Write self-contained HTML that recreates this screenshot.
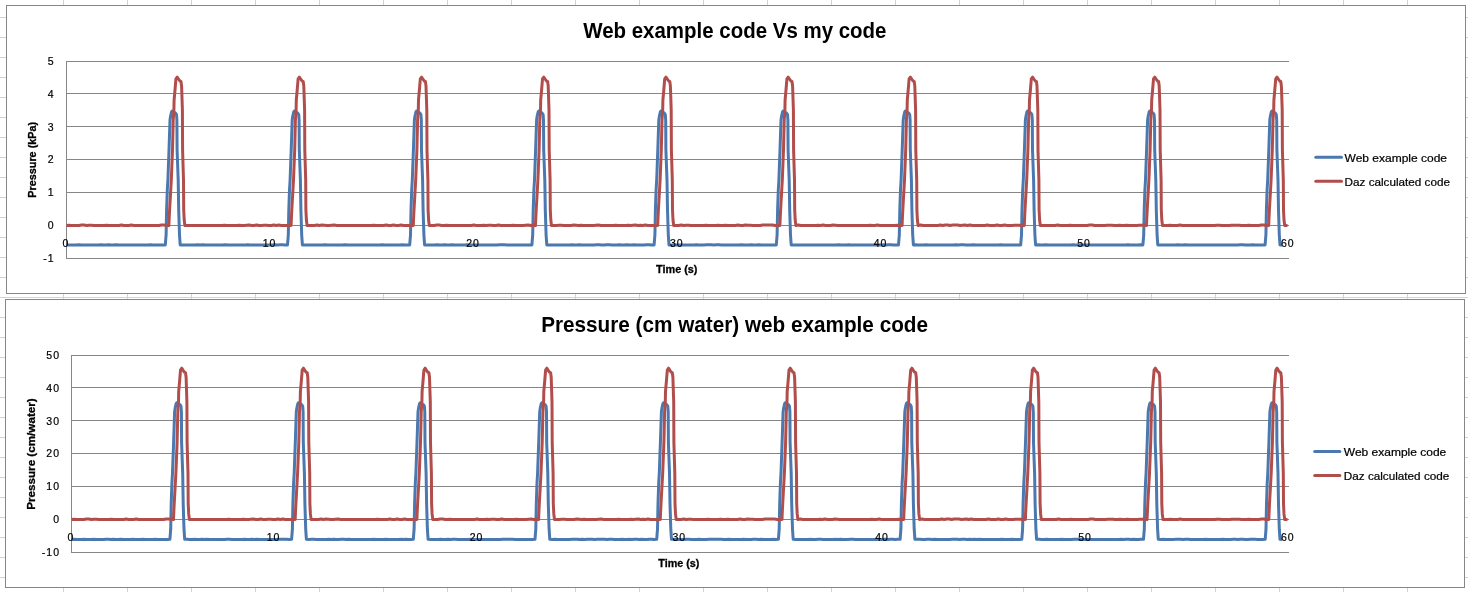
<!DOCTYPE html>
<html><head><meta charset="utf-8"><style>
html,body{margin:0;padding:0;background:#fff;width:1468px;height:592px;overflow:hidden}
svg{display:block;font-family:"Liberation Sans",sans-serif;will-change:transform}
text{fill:#000}
.st{stroke:#000;stroke-width:0.3px}
.sn{stroke:#000;stroke-width:0.2px}
</style></head><body>
<svg width="1468" height="592" viewBox="0 0 1468 592">
<line x1="63.5" y1="0" x2="63.5" y2="592" stroke="#d0d3d8" stroke-width="1"/>
<line x1="127.5" y1="0" x2="127.5" y2="592" stroke="#d0d3d8" stroke-width="1"/>
<line x1="191.5" y1="0" x2="191.5" y2="592" stroke="#d0d3d8" stroke-width="1"/>
<line x1="255.5" y1="0" x2="255.5" y2="592" stroke="#d0d3d8" stroke-width="1"/>
<line x1="319.5" y1="0" x2="319.5" y2="592" stroke="#d0d3d8" stroke-width="1"/>
<line x1="383.5" y1="0" x2="383.5" y2="592" stroke="#d0d3d8" stroke-width="1"/>
<line x1="447.5" y1="0" x2="447.5" y2="592" stroke="#d0d3d8" stroke-width="1"/>
<line x1="511.5" y1="0" x2="511.5" y2="592" stroke="#d0d3d8" stroke-width="1"/>
<line x1="575.5" y1="0" x2="575.5" y2="592" stroke="#d0d3d8" stroke-width="1"/>
<line x1="639.5" y1="0" x2="639.5" y2="592" stroke="#d0d3d8" stroke-width="1"/>
<line x1="703.5" y1="0" x2="703.5" y2="592" stroke="#d0d3d8" stroke-width="1"/>
<line x1="767.5" y1="0" x2="767.5" y2="592" stroke="#d0d3d8" stroke-width="1"/>
<line x1="831.5" y1="0" x2="831.5" y2="592" stroke="#d0d3d8" stroke-width="1"/>
<line x1="895.5" y1="0" x2="895.5" y2="592" stroke="#d0d3d8" stroke-width="1"/>
<line x1="959.5" y1="0" x2="959.5" y2="592" stroke="#d0d3d8" stroke-width="1"/>
<line x1="1023.5" y1="0" x2="1023.5" y2="592" stroke="#d0d3d8" stroke-width="1"/>
<line x1="1087.5" y1="0" x2="1087.5" y2="592" stroke="#d0d3d8" stroke-width="1"/>
<line x1="1151.5" y1="0" x2="1151.5" y2="592" stroke="#d0d3d8" stroke-width="1"/>
<line x1="1215.5" y1="0" x2="1215.5" y2="592" stroke="#d0d3d8" stroke-width="1"/>
<line x1="1279.5" y1="0" x2="1279.5" y2="592" stroke="#d0d3d8" stroke-width="1"/>
<line x1="1343.5" y1="0" x2="1343.5" y2="592" stroke="#d0d3d8" stroke-width="1"/>
<line x1="1407.5" y1="0" x2="1407.5" y2="592" stroke="#d0d3d8" stroke-width="1"/>
<line x1="0" y1="17.5" x2="1468" y2="17.5" stroke="#d0d3d8" stroke-width="1"/>
<line x1="0" y1="37.5" x2="1468" y2="37.5" stroke="#d0d3d8" stroke-width="1"/>
<line x1="0" y1="57.5" x2="1468" y2="57.5" stroke="#d0d3d8" stroke-width="1"/>
<line x1="0" y1="77.5" x2="1468" y2="77.5" stroke="#d0d3d8" stroke-width="1"/>
<line x1="0" y1="97.5" x2="1468" y2="97.5" stroke="#d0d3d8" stroke-width="1"/>
<line x1="0" y1="117.5" x2="1468" y2="117.5" stroke="#d0d3d8" stroke-width="1"/>
<line x1="0" y1="137.5" x2="1468" y2="137.5" stroke="#d0d3d8" stroke-width="1"/>
<line x1="0" y1="157.5" x2="1468" y2="157.5" stroke="#d0d3d8" stroke-width="1"/>
<line x1="0" y1="177.5" x2="1468" y2="177.5" stroke="#d0d3d8" stroke-width="1"/>
<line x1="0" y1="197.5" x2="1468" y2="197.5" stroke="#d0d3d8" stroke-width="1"/>
<line x1="0" y1="217.5" x2="1468" y2="217.5" stroke="#d0d3d8" stroke-width="1"/>
<line x1="0" y1="237.5" x2="1468" y2="237.5" stroke="#d0d3d8" stroke-width="1"/>
<line x1="0" y1="257.5" x2="1468" y2="257.5" stroke="#d0d3d8" stroke-width="1"/>
<line x1="0" y1="277.5" x2="1468" y2="277.5" stroke="#d0d3d8" stroke-width="1"/>
<line x1="0" y1="297.5" x2="1468" y2="297.5" stroke="#d0d3d8" stroke-width="1"/>
<line x1="0" y1="317.5" x2="1468" y2="317.5" stroke="#d0d3d8" stroke-width="1"/>
<line x1="0" y1="337.5" x2="1468" y2="337.5" stroke="#d0d3d8" stroke-width="1"/>
<line x1="0" y1="357.5" x2="1468" y2="357.5" stroke="#d0d3d8" stroke-width="1"/>
<line x1="0" y1="377.5" x2="1468" y2="377.5" stroke="#d0d3d8" stroke-width="1"/>
<line x1="0" y1="397.5" x2="1468" y2="397.5" stroke="#d0d3d8" stroke-width="1"/>
<line x1="0" y1="417.5" x2="1468" y2="417.5" stroke="#d0d3d8" stroke-width="1"/>
<line x1="0" y1="437.5" x2="1468" y2="437.5" stroke="#d0d3d8" stroke-width="1"/>
<line x1="0" y1="457.5" x2="1468" y2="457.5" stroke="#d0d3d8" stroke-width="1"/>
<line x1="0" y1="477.5" x2="1468" y2="477.5" stroke="#d0d3d8" stroke-width="1"/>
<line x1="0" y1="497.5" x2="1468" y2="497.5" stroke="#d0d3d8" stroke-width="1"/>
<line x1="0" y1="517.5" x2="1468" y2="517.5" stroke="#d0d3d8" stroke-width="1"/>
<line x1="0" y1="537.5" x2="1468" y2="537.5" stroke="#d0d3d8" stroke-width="1"/>
<line x1="0" y1="557.5" x2="1468" y2="557.5" stroke="#d0d3d8" stroke-width="1"/>
<line x1="0" y1="577.5" x2="1468" y2="577.5" stroke="#d0d3d8" stroke-width="1"/>
<rect x="6.5" y="5.5" width="1459.0" height="288.0" fill="#fff" stroke="#868686" stroke-width="1"/>
<line x1="66" y1="225.5" x2="1289" y2="225.5" stroke="#868686" stroke-width="1"/>
<line x1="66" y1="192.5" x2="1289" y2="192.5" stroke="#868686" stroke-width="1"/>
<line x1="66" y1="159.5" x2="1289" y2="159.5" stroke="#868686" stroke-width="1"/>
<line x1="66" y1="126.5" x2="1289" y2="126.5" stroke="#868686" stroke-width="1"/>
<line x1="66" y1="93.5" x2="1289" y2="93.5" stroke="#868686" stroke-width="1"/>
<line x1="66" y1="61.5" x2="1289" y2="61.5" stroke="#868686" stroke-width="1"/>
<line x1="66.5" y1="61" x2="66.5" y2="259" stroke="#868686" stroke-width="1"/>
<line x1="66" y1="258.5" x2="1289" y2="258.5" stroke="#868686" stroke-width="1"/>
<line x1="66" y1="225.5" x2="1289" y2="225.5" stroke="#868686" stroke-width="1"/>
<path d="M66.5 245.0 L69.0 244.9 L71.4 245.0 L73.9 245.0 L76.4 245.0 L78.8 244.8 L81.3 245.0 L83.8 245.0 L86.3 245.0 L88.7 244.9 L91.2 245.0 L93.7 245.0 L96.1 245.0 L98.6 245.0 L101.1 244.8 L103.5 244.9 L106.0 245.0 L108.5 244.8 L111.0 245.0 L113.4 245.0 L115.9 244.8 L118.4 245.0 L120.8 245.0 L123.3 245.0 L125.8 245.0 L128.2 244.9 L130.7 245.0 L133.2 245.0 L135.7 245.0 L138.1 244.9 L140.6 245.0 L143.1 245.0 L145.5 245.0 L148.0 245.0 L150.5 244.8 L152.9 245.0 L155.4 245.0 L157.9 245.0 L160.4 245.0 L162.8 245.0 L165.3 244.9 L166.1 235.0 L166.6 210.0 L167.3 190.0 L167.9 180.0 L169.0 150.0 L169.5 135.0 L170.0 120.0 L170.6 116.0 L171.5 112.0 L172.1 111.0 L173.5 111.8 L175.5 113.0 L176.5 114.5 L176.9 120.0 L177.1 150.0 L178.2 180.0 L178.7 210.0 L179.5 235.0 L180.2 244.9 L182.7 244.9 L185.2 245.0 L187.7 245.0 L190.2 244.9 L192.7 245.0 L195.2 245.0 L197.7 244.8 L200.2 245.0 L202.7 244.8 L205.2 245.0 L207.6 245.0 L210.1 245.0 L212.6 245.0 L215.1 245.0 L217.6 245.0 L220.1 245.0 L222.6 244.9 L225.1 244.8 L227.6 245.0 L230.1 245.0 L232.6 245.0 L235.1 245.0 L237.6 245.0 L240.1 244.9 L242.6 245.0 L245.1 245.0 L247.6 244.8 L250.1 245.0 L252.6 244.9 L255.1 245.0 L257.6 245.0 L260.1 245.0 L262.5 245.0 L265.0 245.0 L267.5 245.0 L270.0 245.0 L272.5 245.0 L275.0 244.8 L277.5 244.9 L280.0 244.8 L282.5 244.8 L285.0 245.0 L287.5 244.9 L288.3 235.0 L288.8 210.0 L289.5 190.0 L290.1 180.0 L291.2 150.0 L291.7 135.0 L292.2 120.0 L292.8 116.0 L293.7 112.0 L294.3 111.0 L295.7 111.8 L297.7 113.0 L298.7 114.5 L299.1 120.0 L299.3 150.0 L300.4 180.0 L300.9 210.0 L301.7 235.0 L302.4 244.9 L304.9 245.0 L307.4 244.9 L309.9 244.9 L312.4 245.0 L314.9 245.0 L317.4 245.0 L319.9 245.0 L322.4 245.0 L324.9 244.8 L327.4 245.0 L329.8 244.9 L332.3 245.0 L334.8 245.0 L337.3 244.9 L339.8 244.9 L342.3 245.0 L344.8 244.8 L347.3 245.0 L349.8 245.0 L352.3 245.0 L354.8 245.0 L357.3 245.0 L359.8 245.0 L362.3 245.0 L364.8 245.0 L367.3 245.0 L369.8 244.9 L372.3 245.0 L374.8 245.0 L377.3 245.0 L379.8 245.0 L382.3 244.8 L384.7 245.0 L387.2 245.0 L389.7 245.0 L392.2 245.0 L394.7 245.0 L397.2 244.9 L399.7 245.0 L402.2 244.8 L404.7 245.0 L407.2 245.0 L409.7 244.9 L410.5 235.0 L411.0 210.0 L411.7 190.0 L412.3 180.0 L413.4 150.0 L413.9 135.0 L414.4 120.0 L415.0 116.0 L415.9 112.0 L416.5 111.0 L417.9 111.8 L419.9 113.0 L420.9 114.5 L421.3 120.0 L421.5 150.0 L422.6 180.0 L423.1 210.0 L423.9 235.0 L424.6 244.9 L427.1 245.0 L429.6 245.0 L432.1 245.0 L434.6 245.0 L437.1 244.8 L439.6 245.0 L442.1 245.0 L444.6 244.8 L447.1 245.0 L449.6 244.9 L452.0 244.8 L454.5 245.0 L457.0 245.0 L459.5 245.0 L462.0 245.0 L464.5 245.0 L467.0 244.8 L469.5 245.0 L472.0 245.0 L474.5 245.0 L477.0 245.0 L479.5 245.0 L482.0 245.0 L484.5 245.0 L487.0 245.0 L489.5 245.0 L492.0 245.0 L494.5 245.0 L497.0 245.0 L499.5 244.8 L502.0 244.8 L504.5 244.8 L506.9 244.9 L509.4 244.9 L511.9 245.0 L514.4 245.0 L516.9 245.0 L519.4 245.0 L521.9 245.0 L524.4 245.0 L526.9 245.0 L529.4 245.0 L531.9 244.9 L532.7 235.0 L533.2 210.0 L533.9 190.0 L534.5 180.0 L535.6 150.0 L536.1 135.0 L536.6 120.0 L537.2 116.0 L538.1 112.0 L538.7 111.0 L540.1 111.8 L542.1 113.0 L543.1 114.5 L543.5 120.0 L543.7 150.0 L544.8 180.0 L545.3 210.0 L546.1 235.0 L546.8 244.9 L549.3 245.0 L551.8 244.9 L554.3 245.0 L556.8 245.0 L559.3 245.0 L561.8 245.0 L564.3 245.0 L566.8 245.0 L569.3 244.9 L571.8 244.8 L574.2 244.9 L576.7 245.0 L579.2 244.8 L581.7 245.0 L584.2 244.9 L586.7 244.9 L589.2 244.9 L591.7 245.0 L594.2 244.9 L596.7 244.8 L599.2 244.8 L601.7 244.9 L604.2 245.0 L606.7 244.8 L609.2 244.8 L611.7 245.0 L614.2 245.0 L616.7 245.0 L619.2 244.8 L621.7 245.0 L624.2 245.0 L626.7 244.8 L629.1 245.0 L631.6 244.9 L634.1 244.8 L636.6 245.0 L639.1 244.9 L641.6 245.0 L644.1 245.0 L646.6 244.8 L649.1 244.8 L651.6 245.0 L654.1 244.9 L654.9 235.0 L655.4 210.0 L656.1 190.0 L656.7 180.0 L657.8 150.0 L658.3 135.0 L658.8 120.0 L659.4 116.0 L660.3 112.0 L660.9 111.0 L662.3 111.8 L664.3 113.0 L665.3 114.5 L665.7 120.0 L665.9 150.0 L667.0 180.0 L667.5 210.0 L668.3 235.0 L669.0 244.9 L671.5 244.9 L674.0 245.0 L676.5 245.0 L679.0 245.0 L681.5 245.0 L684.0 244.9 L686.5 244.9 L689.0 245.0 L691.5 245.0 L694.0 245.0 L696.4 244.8 L698.9 245.0 L701.4 245.0 L703.9 245.0 L706.4 244.8 L708.9 244.8 L711.4 244.8 L713.9 244.9 L716.4 244.8 L718.9 244.8 L721.4 245.0 L723.9 245.0 L726.4 244.9 L728.9 245.0 L731.4 245.0 L733.9 245.0 L736.4 245.0 L738.9 245.0 L741.4 244.8 L743.9 245.0 L746.4 245.0 L748.9 245.0 L751.3 244.8 L753.8 244.9 L756.3 245.0 L758.8 244.8 L761.3 245.0 L763.8 245.0 L766.3 245.0 L768.8 245.0 L771.3 244.9 L773.8 245.0 L776.3 244.9 L777.1 235.0 L777.6 210.0 L778.3 190.0 L778.9 180.0 L780.0 150.0 L780.5 135.0 L781.0 120.0 L781.6 116.0 L782.5 112.0 L783.1 111.0 L784.5 111.8 L786.5 113.0 L787.5 114.5 L787.9 120.0 L788.1 150.0 L789.2 180.0 L789.7 210.0 L790.5 235.0 L791.2 244.9 L793.7 245.0 L796.2 245.0 L798.7 245.0 L801.2 245.0 L803.7 245.0 L806.2 245.0 L808.7 244.9 L811.2 245.0 L813.7 245.0 L816.2 244.9 L818.6 244.9 L821.1 245.0 L823.6 245.0 L826.1 245.0 L828.6 245.0 L831.1 245.0 L833.6 244.9 L836.1 245.0 L838.6 244.8 L841.1 245.0 L843.6 245.0 L846.1 245.0 L848.6 244.8 L851.1 244.9 L853.6 245.0 L856.1 245.0 L858.6 245.0 L861.1 245.0 L863.6 245.0 L866.1 245.0 L868.6 245.0 L871.1 245.0 L873.5 245.0 L876.0 244.8 L878.5 245.0 L881.0 245.0 L883.5 244.8 L886.0 245.0 L888.5 244.8 L891.0 244.8 L893.5 245.0 L896.0 244.9 L898.5 244.9 L899.3 235.0 L899.8 210.0 L900.5 190.0 L901.1 180.0 L902.2 150.0 L902.7 135.0 L903.2 120.0 L903.8 116.0 L904.7 112.0 L905.3 111.0 L906.7 111.8 L908.7 113.0 L909.7 114.5 L910.1 120.0 L910.3 150.0 L911.4 180.0 L911.9 210.0 L912.7 235.0 L913.4 244.9 L915.9 244.8 L918.4 244.9 L920.9 245.0 L923.4 245.0 L925.9 244.8 L928.4 244.9 L930.9 245.0 L933.4 244.9 L935.9 245.0 L938.4 245.0 L940.8 245.0 L943.3 245.0 L945.8 245.0 L948.3 245.0 L950.8 244.9 L953.3 244.9 L955.8 244.8 L958.3 245.0 L960.8 244.8 L963.3 244.8 L965.8 245.0 L968.3 244.9 L970.8 245.0 L973.3 244.8 L975.8 245.0 L978.3 244.9 L980.8 245.0 L983.3 245.0 L985.8 245.0 L988.3 245.0 L990.8 245.0 L993.3 245.0 L995.7 245.0 L998.2 245.0 L1000.7 244.8 L1003.2 245.0 L1005.7 245.0 L1008.2 245.0 L1010.7 244.9 L1013.2 245.0 L1015.7 245.0 L1018.2 245.0 L1020.7 244.9 L1021.5 235.0 L1022.0 210.0 L1022.7 190.0 L1023.3 180.0 L1024.4 150.0 L1024.9 135.0 L1025.4 120.0 L1026.0 116.0 L1026.9 112.0 L1027.5 111.0 L1028.9 111.8 L1030.9 113.0 L1031.9 114.5 L1032.3 120.0 L1032.5 150.0 L1033.6 180.0 L1034.1 210.0 L1034.9 235.0 L1035.6 244.9 L1038.1 244.8 L1040.6 245.0 L1043.1 245.0 L1045.6 244.8 L1048.1 245.0 L1050.6 245.0 L1053.1 245.0 L1055.6 245.0 L1058.1 245.0 L1060.6 244.9 L1063.0 245.0 L1065.5 245.0 L1068.0 245.0 L1070.5 245.0 L1073.0 244.8 L1075.5 244.9 L1078.0 244.9 L1080.5 245.0 L1083.0 245.0 L1085.5 245.0 L1088.0 245.0 L1090.5 245.0 L1093.0 245.0 L1095.5 245.0 L1098.0 245.0 L1100.5 245.0 L1103.0 245.0 L1105.5 245.0 L1108.0 245.0 L1110.5 245.0 L1113.0 245.0 L1115.5 245.0 L1117.9 245.0 L1120.4 244.9 L1122.9 245.0 L1125.4 244.9 L1127.9 244.8 L1130.4 245.0 L1132.9 244.9 L1135.4 245.0 L1137.9 245.0 L1140.4 244.8 L1142.9 244.9 L1143.7 235.0 L1144.2 210.0 L1144.9 190.0 L1145.5 180.0 L1146.6 150.0 L1147.1 135.0 L1147.6 120.0 L1148.2 116.0 L1149.1 112.0 L1149.7 111.0 L1151.1 111.8 L1153.1 113.0 L1154.1 114.5 L1154.5 120.0 L1154.7 150.0 L1155.8 180.0 L1156.3 210.0 L1157.1 235.0 L1157.8 244.9 L1160.3 245.0 L1162.8 244.9 L1165.3 245.0 L1167.8 245.0 L1170.3 245.0 L1172.8 245.0 L1175.3 244.9 L1177.8 244.8 L1180.3 244.9 L1182.8 245.0 L1185.2 244.8 L1187.7 244.9 L1190.2 245.0 L1192.7 245.0 L1195.2 245.0 L1197.7 245.0 L1200.2 245.0 L1202.7 245.0 L1205.2 244.9 L1207.7 245.0 L1210.2 245.0 L1212.7 245.0 L1215.2 245.0 L1217.7 245.0 L1220.2 245.0 L1222.7 244.9 L1225.2 245.0 L1227.7 245.0 L1230.2 245.0 L1232.7 244.9 L1235.2 244.9 L1237.7 245.0 L1240.1 244.8 L1242.6 244.8 L1245.1 245.0 L1247.6 245.0 L1250.1 244.9 L1252.6 244.8 L1255.1 244.9 L1257.6 245.0 L1260.1 245.0 L1262.6 245.0 L1265.1 244.9 L1265.9 235.0 L1266.4 210.0 L1267.1 190.0 L1267.7 180.0 L1268.8 150.0 L1269.3 135.0 L1269.8 120.0 L1270.4 116.0 L1271.3 112.0 L1271.9 111.0 L1273.3 111.8 L1275.3 113.0 L1276.3 114.5 L1276.7 120.0 L1276.9 150.0 L1278.0 180.0 L1278.5 210.0 L1279.3 235.0 L1280.0 244.9 L1282.0 245.0" fill="none" stroke="#4A78AF" stroke-width="3" stroke-linejoin="round" stroke-linecap="butt"/>
<path d="M66.5 225.5 L69.0 225.2 L71.5 225.5 L74.0 225.5 L76.5 225.5 L79.0 225.5 L81.5 225.0 L84.0 225.0 L86.5 225.5 L89.0 225.2 L91.5 225.2 L94.0 225.5 L96.5 225.5 L99.0 225.5 L101.5 225.5 L104.0 225.5 L106.5 225.2 L109.0 225.5 L111.5 225.5 L114.0 225.5 L116.5 225.5 L118.9 225.5 L121.4 225.0 L123.9 225.5 L126.4 225.5 L128.9 225.5 L131.4 225.0 L133.9 225.5 L136.4 225.5 L138.9 225.5 L141.4 225.5 L143.9 225.5 L146.4 225.5 L148.9 225.5 L151.4 225.5 L153.9 225.5 L156.4 225.5 L158.9 225.5 L161.4 225.0 L163.9 225.0 L166.4 225.2 L168.9 225.5 L169.1 220.0 L169.6 210.0 L171.3 180.0 L172.5 150.0 L173.2 120.0 L173.9 110.0 L174.1 100.0 L175.0 90.0 L175.9 79.0 L177.2 77.2 L178.8 79.5 L180.0 81.2 L181.0 81.5 L181.6 86.0 L182.4 110.0 L182.6 150.0 L183.5 180.0 L183.7 210.0 L184.2 220.0 L184.9 225.5 L187.4 225.5 L189.8 225.5 L192.3 225.5 L194.8 225.5 L197.2 225.5 L199.7 225.5 L202.2 225.5 L204.7 225.5 L207.1 225.5 L209.6 225.5 L212.1 225.5 L214.5 225.5 L217.0 225.5 L219.5 225.5 L221.9 225.5 L224.4 225.2 L226.9 225.5 L229.4 225.5 L231.8 225.5 L234.3 225.5 L236.8 225.5 L239.2 225.2 L241.7 225.5 L244.2 225.5 L246.6 225.2 L249.1 225.0 L251.6 225.5 L254.1 225.5 L256.5 225.0 L259.0 225.5 L261.5 225.5 L263.9 225.2 L266.4 225.2 L268.9 225.5 L271.3 225.5 L273.8 225.0 L276.3 225.5 L278.8 225.0 L281.2 225.5 L283.7 225.5 L286.2 225.5 L288.6 225.5 L291.1 225.5 L291.3 220.0 L291.8 210.0 L293.5 180.0 L294.7 150.0 L295.4 120.0 L296.1 110.0 L296.3 100.0 L297.2 90.0 L298.1 79.0 L299.4 77.2 L301.0 79.5 L302.2 81.2 L303.2 81.5 L303.8 86.0 L304.6 110.0 L304.8 150.0 L305.7 180.0 L305.9 210.0 L306.4 220.0 L307.1 225.5 L309.6 225.5 L312.0 225.5 L314.5 225.5 L317.0 225.0 L319.4 225.5 L321.9 225.0 L324.4 225.2 L326.9 225.5 L329.3 225.5 L331.8 225.2 L334.3 225.0 L336.7 225.5 L339.2 225.5 L341.7 225.5 L344.1 225.5 L346.6 225.5 L349.1 225.5 L351.6 225.5 L354.0 225.5 L356.5 225.5 L359.0 225.5 L361.4 225.5 L363.9 225.5 L366.4 225.5 L368.8 225.5 L371.3 225.5 L373.8 225.2 L376.3 225.5 L378.7 225.5 L381.2 225.5 L383.7 225.5 L386.1 225.0 L388.6 225.5 L391.1 225.5 L393.5 225.0 L396.0 225.5 L398.5 225.5 L401.0 225.0 L403.4 225.5 L405.9 225.5 L408.4 225.5 L410.8 225.5 L413.3 225.5 L413.5 220.0 L414.0 210.0 L415.7 180.0 L416.9 150.0 L417.6 120.0 L418.3 110.0 L418.5 100.0 L419.4 90.0 L420.3 79.0 L421.6 77.2 L423.2 79.5 L424.4 81.2 L425.4 81.5 L426.0 86.0 L426.8 110.0 L427.0 150.0 L427.9 180.0 L428.1 210.0 L428.6 220.0 L429.3 225.5 L431.8 225.5 L434.2 225.5 L436.7 225.0 L439.2 225.0 L441.6 225.5 L444.1 225.5 L446.6 225.2 L449.1 225.5 L451.5 225.5 L454.0 225.5 L456.5 225.5 L458.9 225.5 L461.4 225.5 L463.9 225.5 L466.3 225.5 L468.8 225.5 L471.3 225.5 L473.8 225.0 L476.2 225.5 L478.7 225.5 L481.2 225.5 L483.6 225.2 L486.1 225.5 L488.6 225.2 L491.0 225.2 L493.5 225.5 L496.0 225.5 L498.5 225.0 L500.9 225.5 L503.4 225.5 L505.9 225.5 L508.3 225.5 L510.8 225.5 L513.3 225.2 L515.7 225.5 L518.2 225.5 L520.7 225.5 L523.2 225.5 L525.6 225.2 L528.1 225.0 L530.6 225.5 L533.0 225.2 L535.5 225.5 L535.7 220.0 L536.2 210.0 L537.9 180.0 L539.1 150.0 L539.8 120.0 L540.5 110.0 L540.7 100.0 L541.6 90.0 L542.5 79.0 L543.8 77.2 L545.4 79.5 L546.6 81.2 L547.6 81.5 L548.2 86.0 L549.0 110.0 L549.2 150.0 L550.1 180.0 L550.3 210.0 L550.8 220.0 L551.5 225.5 L554.0 225.5 L556.4 225.5 L558.9 225.2 L561.4 225.2 L563.8 225.5 L566.3 225.5 L568.8 225.5 L571.3 225.5 L573.7 225.0 L576.2 225.2 L578.7 225.5 L581.1 225.2 L583.6 225.5 L586.1 225.5 L588.5 225.5 L591.0 225.5 L593.5 225.5 L596.0 225.2 L598.4 225.0 L600.9 225.5 L603.4 225.5 L605.8 225.5 L608.3 225.5 L610.8 225.5 L613.2 225.5 L615.7 225.2 L618.2 225.5 L620.7 225.5 L623.1 225.5 L625.6 225.5 L628.1 225.2 L630.5 225.5 L633.0 225.2 L635.5 225.0 L637.9 225.5 L640.4 225.2 L642.9 225.5 L645.4 225.0 L647.8 225.5 L650.3 225.5 L652.8 225.5 L655.2 225.5 L657.7 225.5 L657.9 220.0 L658.4 210.0 L660.1 180.0 L661.3 150.0 L662.0 120.0 L662.7 110.0 L662.9 100.0 L663.8 90.0 L664.7 79.0 L666.0 77.2 L667.6 79.5 L668.8 81.2 L669.8 81.5 L670.4 86.0 L671.2 110.0 L671.4 150.0 L672.3 180.0 L672.5 210.0 L673.0 220.0 L673.7 225.5 L676.2 225.5 L678.6 225.5 L681.1 225.0 L683.6 225.5 L686.0 225.2 L688.5 225.2 L691.0 225.5 L693.5 225.5 L695.9 225.5 L698.4 225.5 L700.9 225.5 L703.3 225.5 L705.8 225.2 L708.3 225.5 L710.7 225.5 L713.2 225.5 L715.7 225.5 L718.2 225.2 L720.6 225.5 L723.1 225.5 L725.6 225.2 L728.0 225.5 L730.5 225.5 L733.0 225.5 L735.4 225.5 L737.9 225.0 L740.4 225.5 L742.9 225.5 L745.3 225.0 L747.8 225.2 L750.3 225.2 L752.7 225.5 L755.2 225.5 L757.7 225.5 L760.1 225.5 L762.6 225.0 L765.1 225.0 L767.6 225.0 L770.0 225.0 L772.5 225.0 L775.0 225.5 L777.4 225.5 L779.9 225.5 L780.1 220.0 L780.6 210.0 L782.3 180.0 L783.5 150.0 L784.2 120.0 L784.9 110.0 L785.1 100.0 L786.0 90.0 L786.9 79.0 L788.2 77.2 L789.8 79.5 L791.0 81.2 L792.0 81.5 L792.6 86.0 L793.4 110.0 L793.6 150.0 L794.5 180.0 L794.7 210.0 L795.2 220.0 L795.9 225.5 L798.4 225.0 L800.8 225.5 L803.3 225.5 L805.8 225.5 L808.2 225.5 L810.7 225.5 L813.2 225.5 L815.7 225.5 L818.1 225.2 L820.6 225.5 L823.1 225.0 L825.5 225.5 L828.0 225.5 L830.5 225.5 L832.9 225.0 L835.4 225.2 L837.9 225.5 L840.4 225.5 L842.8 225.5 L845.3 225.5 L847.8 225.5 L850.2 225.5 L852.7 225.5 L855.2 225.5 L857.6 225.5 L860.1 225.5 L862.6 225.5 L865.1 225.5 L867.5 225.5 L870.0 225.2 L872.5 225.5 L874.9 225.5 L877.4 225.0 L879.9 225.5 L882.3 225.5 L884.8 225.5 L887.3 225.5 L889.8 225.5 L892.2 225.5 L894.7 225.5 L897.2 225.2 L899.6 225.5 L902.1 225.5 L902.3 220.0 L902.8 210.0 L904.5 180.0 L905.7 150.0 L906.4 120.0 L907.1 110.0 L907.3 100.0 L908.2 90.0 L909.1 79.0 L910.4 77.2 L912.0 79.5 L913.2 81.2 L914.2 81.5 L914.8 86.0 L915.6 110.0 L915.8 150.0 L916.7 180.0 L916.9 210.0 L917.4 220.0 L918.1 225.5 L920.6 225.0 L923.0 225.5 L925.5 225.5 L928.0 225.5 L930.4 225.5 L932.9 225.5 L935.4 225.5 L937.9 225.5 L940.3 225.0 L942.8 225.5 L945.3 225.0 L947.7 225.0 L950.2 225.5 L952.7 225.0 L955.1 225.0 L957.6 225.0 L960.1 225.5 L962.6 225.2 L965.0 225.0 L967.5 225.5 L970.0 225.0 L972.4 225.5 L974.9 225.5 L977.4 225.5 L979.8 225.5 L982.3 225.5 L984.8 225.5 L987.3 225.0 L989.7 225.5 L992.2 225.5 L994.7 225.5 L997.1 225.0 L999.6 225.5 L1002.1 225.5 L1004.5 225.0 L1007.0 225.5 L1009.5 225.5 L1012.0 225.5 L1014.4 225.2 L1016.9 225.2 L1019.4 225.2 L1021.8 225.5 L1024.3 225.5 L1024.5 220.0 L1025.0 210.0 L1026.7 180.0 L1027.9 150.0 L1028.6 120.0 L1029.3 110.0 L1029.5 100.0 L1030.4 90.0 L1031.3 79.0 L1032.6 77.2 L1034.2 79.5 L1035.4 81.2 L1036.4 81.5 L1037.0 86.0 L1037.8 110.0 L1038.0 150.0 L1038.9 180.0 L1039.1 210.0 L1039.6 220.0 L1040.3 225.5 L1042.8 225.5 L1045.2 225.5 L1047.7 225.5 L1050.2 225.5 L1052.6 225.5 L1055.1 225.5 L1057.6 225.0 L1060.1 225.5 L1062.5 225.5 L1065.0 225.5 L1067.5 225.5 L1069.9 225.2 L1072.4 225.5 L1074.9 225.5 L1077.3 225.5 L1079.8 225.5 L1082.3 225.5 L1084.8 225.5 L1087.2 225.5 L1089.7 225.0 L1092.2 225.0 L1094.6 225.5 L1097.1 225.5 L1099.6 225.5 L1102.0 225.5 L1104.5 225.5 L1107.0 225.2 L1109.5 225.2 L1111.9 225.2 L1114.4 225.5 L1116.9 225.5 L1119.3 225.2 L1121.8 225.5 L1124.3 225.5 L1126.7 225.2 L1129.2 225.5 L1131.7 225.5 L1134.2 225.5 L1136.6 225.5 L1139.1 225.2 L1141.6 225.2 L1144.0 225.0 L1146.5 225.5 L1146.7 220.0 L1147.2 210.0 L1148.9 180.0 L1150.1 150.0 L1150.8 120.0 L1151.5 110.0 L1151.7 100.0 L1152.6 90.0 L1153.5 79.0 L1154.8 77.2 L1156.4 79.5 L1157.6 81.2 L1158.6 81.5 L1159.2 86.0 L1160.0 110.0 L1160.2 150.0 L1161.1 180.0 L1161.3 210.0 L1161.8 220.0 L1162.5 225.5 L1165.0 225.5 L1167.4 225.5 L1169.9 225.2 L1172.4 225.5 L1174.8 225.5 L1177.3 225.5 L1179.8 225.0 L1182.3 225.5 L1184.7 225.5 L1187.2 225.5 L1189.7 225.5 L1192.1 225.5 L1194.6 225.5 L1197.1 225.5 L1199.5 225.5 L1202.0 225.5 L1204.5 225.5 L1207.0 225.5 L1209.4 225.5 L1211.9 225.5 L1214.4 225.5 L1216.8 225.2 L1219.3 225.2 L1221.8 225.5 L1224.2 225.5 L1226.7 225.5 L1229.2 225.5 L1231.7 225.2 L1234.1 225.2 L1236.6 225.2 L1239.1 225.2 L1241.5 225.5 L1244.0 225.5 L1246.5 225.5 L1248.9 225.2 L1251.4 225.5 L1253.9 225.5 L1256.4 225.5 L1258.8 225.5 L1261.3 225.0 L1263.8 225.0 L1266.2 225.5 L1268.7 225.5 L1268.9 220.0 L1269.4 210.0 L1271.1 180.0 L1272.3 150.0 L1273.0 120.0 L1273.7 110.0 L1273.9 100.0 L1274.8 90.0 L1275.7 79.0 L1277.0 77.2 L1278.6 79.5 L1279.8 81.2 L1280.8 81.5 L1281.4 86.0 L1282.2 110.0 L1282.4 150.0 L1283.3 180.0 L1283.5 210.0 L1284.0 220.0 L1284.7 225.5 L1287.5 225.5" fill="none" stroke="#B14E4C" stroke-width="3" stroke-linejoin="round" stroke-linecap="butt"/>
<text x="54.5" y="261.9" font-size="10.5" class="sn" letter-spacing="1.0" text-anchor="end">-1</text>
<text x="54.5" y="229.1" font-size="10.5" class="sn" letter-spacing="1.0" text-anchor="end">0</text>
<text x="54.5" y="196.2" font-size="10.5" class="sn" letter-spacing="1.0" text-anchor="end">1</text>
<text x="54.5" y="163.4" font-size="10.5" class="sn" letter-spacing="1.0" text-anchor="end">2</text>
<text x="54.5" y="130.6" font-size="10.5" class="sn" letter-spacing="1.0" text-anchor="end">3</text>
<text x="54.5" y="97.7" font-size="10.5" class="sn" letter-spacing="1.0" text-anchor="end">4</text>
<text x="54.5" y="64.9" font-size="10.5" class="sn" letter-spacing="1.0" text-anchor="end">5</text>
<text x="65.8" y="247.0" font-size="10.5" class="sn" letter-spacing="1.0" text-anchor="middle">0</text>
<text x="269.5" y="247.0" font-size="10.5" class="sn" letter-spacing="1.0" text-anchor="middle">10</text>
<text x="473.1" y="247.0" font-size="10.5" class="sn" letter-spacing="1.0" text-anchor="middle">20</text>
<text x="676.8" y="247.0" font-size="10.5" class="sn" letter-spacing="1.0" text-anchor="middle">30</text>
<text x="880.5" y="247.0" font-size="10.5" class="sn" letter-spacing="1.0" text-anchor="middle">40</text>
<text x="1084.1" y="247.0" font-size="10.5" class="sn" letter-spacing="1.0" text-anchor="middle">50</text>
<text x="1287.8" y="247.0" font-size="10.5" class="sn" letter-spacing="1.0" text-anchor="middle">60</text>
<text x="583.2" y="38.0" font-size="21.7" font-weight="bold" textLength="303.3" lengthAdjust="spacingAndGlyphs">Web example code Vs my code</text>
<text x="656.1" y="273.0" font-size="11.2" font-weight="bold" class="st" textLength="41.4" lengthAdjust="spacingAndGlyphs">Time (s)</text>
<text transform="translate(35.7 197.8) rotate(-90)" x="0" y="0" font-size="11.2" font-weight="bold" class="st" textLength="76.0" lengthAdjust="spacingAndGlyphs">Pressure (kPa)</text>
<line x1="1315.8" y1="157.3" x2="1341.5" y2="157.3" stroke="#4A78AF" stroke-width="3" stroke-linecap="round"/>
<line x1="1315.8" y1="181.3" x2="1341.5" y2="181.3" stroke="#B14E4C" stroke-width="3" stroke-linecap="round"/>
<text x="1344.6" y="162.0" font-size="10.2" class="sn" textLength="102.4" lengthAdjust="spacingAndGlyphs">Web example code</text>
<text x="1344.6" y="186.0" font-size="10.2" class="sn" textLength="105.4" lengthAdjust="spacingAndGlyphs">Daz calculated code</text>
<rect x="5.5" y="299.5" width="1459.0" height="288.0" fill="#fff" stroke="#868686" stroke-width="1"/>
<line x1="71" y1="519.5" x2="1289" y2="519.5" stroke="#868686" stroke-width="1"/>
<line x1="71" y1="486.5" x2="1289" y2="486.5" stroke="#868686" stroke-width="1"/>
<line x1="71" y1="453.5" x2="1289" y2="453.5" stroke="#868686" stroke-width="1"/>
<line x1="71" y1="420.5" x2="1289" y2="420.5" stroke="#868686" stroke-width="1"/>
<line x1="71" y1="387.5" x2="1289" y2="387.5" stroke="#868686" stroke-width="1"/>
<line x1="71" y1="355.5" x2="1289" y2="355.5" stroke="#868686" stroke-width="1"/>
<line x1="71.5" y1="355" x2="71.5" y2="553" stroke="#868686" stroke-width="1"/>
<line x1="71" y1="552.5" x2="1289" y2="552.5" stroke="#868686" stroke-width="1"/>
<line x1="71" y1="519.5" x2="1289" y2="519.5" stroke="#868686" stroke-width="1"/>
<path d="M71.5 539.4 L74.0 539.3 L76.4 539.4 L78.9 539.4 L81.3 539.4 L83.8 539.2 L86.3 539.4 L88.7 539.4 L91.2 539.4 L93.6 539.3 L96.1 539.4 L98.6 539.4 L101.0 539.4 L103.5 539.4 L105.9 539.2 L108.4 539.3 L110.9 539.4 L113.3 539.2 L115.8 539.4 L118.2 539.4 L120.7 539.2 L123.2 539.4 L125.6 539.4 L128.1 539.4 L130.5 539.4 L133.0 539.3 L135.5 539.4 L137.9 539.4 L140.4 539.4 L142.8 539.3 L145.3 539.4 L147.8 539.4 L150.2 539.4 L152.7 539.4 L155.1 539.2 L157.6 539.4 L160.1 539.4 L162.5 539.4 L165.0 539.4 L167.4 539.4 L169.9 539.3 L170.7 529.2 L171.2 503.7 L171.9 483.3 L172.5 473.1 L173.6 442.5 L174.1 427.2 L174.6 411.9 L175.2 407.8 L176.1 403.7 L176.7 402.7 L178.1 403.5 L180.1 404.8 L181.0 406.3 L181.4 411.9 L181.6 442.5 L182.7 473.1 L183.2 503.7 L184.0 529.2 L184.7 539.3 L187.2 539.3 L189.7 539.4 L192.2 539.4 L194.7 539.3 L197.2 539.4 L199.6 539.4 L202.1 539.2 L204.6 539.4 L207.1 539.2 L209.6 539.4 L212.1 539.4 L214.6 539.4 L217.0 539.4 L219.5 539.4 L222.0 539.4 L224.5 539.4 L227.0 539.3 L229.5 539.2 L232.0 539.4 L234.4 539.4 L236.9 539.4 L239.4 539.4 L241.9 539.4 L244.4 539.3 L246.9 539.4 L249.3 539.4 L251.8 539.2 L254.3 539.4 L256.8 539.3 L259.3 539.4 L261.8 539.4 L264.3 539.4 L266.7 539.4 L269.2 539.4 L271.7 539.4 L274.2 539.4 L276.7 539.4 L279.2 539.2 L281.7 539.3 L284.1 539.2 L286.6 539.2 L289.1 539.4 L291.6 539.3 L292.4 529.2 L292.9 503.7 L293.6 483.3 L294.2 473.1 L295.3 442.5 L295.8 427.2 L296.3 411.9 L296.9 407.8 L297.8 403.7 L298.4 402.7 L299.8 403.5 L301.8 404.8 L302.7 406.3 L303.1 411.9 L303.3 442.5 L304.4 473.1 L304.9 503.7 L305.7 529.2 L306.4 539.3 L308.9 539.4 L311.4 539.3 L313.9 539.3 L316.4 539.4 L318.9 539.4 L321.3 539.4 L323.8 539.4 L326.3 539.4 L328.8 539.2 L331.3 539.4 L333.8 539.3 L336.3 539.4 L338.7 539.4 L341.2 539.3 L343.7 539.3 L346.2 539.4 L348.7 539.2 L351.2 539.4 L353.7 539.4 L356.1 539.4 L358.6 539.4 L361.1 539.4 L363.6 539.4 L366.1 539.4 L368.6 539.4 L371.0 539.4 L373.5 539.3 L376.0 539.4 L378.5 539.4 L381.0 539.4 L383.5 539.4 L386.0 539.2 L388.4 539.4 L390.9 539.4 L393.4 539.4 L395.9 539.4 L398.4 539.4 L400.9 539.3 L403.4 539.4 L405.8 539.2 L408.3 539.4 L410.8 539.4 L413.3 539.3 L414.1 529.2 L414.6 503.7 L415.3 483.3 L415.9 473.1 L417.0 442.5 L417.5 427.2 L418.0 411.9 L418.6 407.8 L419.5 403.7 L420.1 402.7 L421.5 403.5 L423.5 404.8 L424.4 406.3 L424.8 411.9 L425.0 442.5 L426.1 473.1 L426.6 503.7 L427.4 529.2 L428.1 539.3 L430.6 539.4 L433.1 539.4 L435.6 539.4 L438.1 539.4 L440.6 539.2 L443.0 539.4 L445.5 539.4 L448.0 539.2 L450.5 539.4 L453.0 539.3 L455.5 539.2 L458.0 539.4 L460.4 539.4 L462.9 539.4 L465.4 539.4 L467.9 539.4 L470.4 539.2 L472.9 539.4 L475.4 539.4 L477.8 539.4 L480.3 539.4 L482.8 539.4 L485.3 539.4 L487.8 539.4 L490.3 539.4 L492.7 539.4 L495.2 539.4 L497.7 539.4 L500.2 539.4 L502.7 539.2 L505.2 539.2 L507.7 539.2 L510.1 539.3 L512.6 539.3 L515.1 539.4 L517.6 539.4 L520.1 539.4 L522.6 539.4 L525.1 539.4 L527.5 539.4 L530.0 539.4 L532.5 539.4 L535.0 539.3 L535.8 529.2 L536.3 503.7 L537.0 483.3 L537.6 473.1 L538.7 442.5 L539.2 427.2 L539.7 411.9 L540.3 407.8 L541.2 403.7 L541.8 402.7 L543.2 403.5 L545.2 404.8 L546.1 406.3 L546.5 411.9 L546.7 442.5 L547.8 473.1 L548.3 503.7 L549.1 529.2 L549.8 539.3 L552.3 539.4 L554.8 539.3 L557.3 539.4 L559.8 539.4 L562.3 539.4 L564.7 539.4 L567.2 539.4 L569.7 539.4 L572.2 539.3 L574.7 539.2 L577.2 539.3 L579.7 539.4 L582.1 539.2 L584.6 539.4 L587.1 539.3 L589.6 539.3 L592.1 539.3 L594.6 539.4 L597.1 539.3 L599.5 539.2 L602.0 539.2 L604.5 539.3 L607.0 539.4 L609.5 539.2 L612.0 539.2 L614.4 539.4 L616.9 539.4 L619.4 539.4 L621.9 539.2 L624.4 539.4 L626.9 539.4 L629.4 539.2 L631.8 539.4 L634.3 539.3 L636.8 539.2 L639.3 539.4 L641.8 539.3 L644.3 539.4 L646.8 539.4 L649.2 539.2 L651.7 539.2 L654.2 539.4 L656.7 539.3 L657.5 529.2 L658.0 503.7 L658.7 483.3 L659.3 473.1 L660.4 442.5 L660.9 427.2 L661.4 411.9 L662.0 407.8 L662.9 403.7 L663.5 402.7 L664.9 403.5 L666.9 404.8 L667.8 406.3 L668.2 411.9 L668.4 442.5 L669.5 473.1 L670.0 503.7 L670.8 529.2 L671.5 539.3 L674.0 539.3 L676.5 539.4 L679.0 539.4 L681.5 539.4 L684.0 539.4 L686.4 539.3 L688.9 539.3 L691.4 539.4 L693.9 539.4 L696.4 539.4 L698.9 539.2 L701.4 539.4 L703.8 539.4 L706.3 539.4 L708.8 539.2 L711.3 539.2 L713.8 539.2 L716.3 539.3 L718.8 539.2 L721.2 539.2 L723.7 539.4 L726.2 539.4 L728.7 539.3 L731.2 539.4 L733.7 539.4 L736.1 539.4 L738.6 539.4 L741.1 539.4 L743.6 539.2 L746.1 539.4 L748.6 539.4 L751.1 539.4 L753.5 539.2 L756.0 539.3 L758.5 539.4 L761.0 539.2 L763.5 539.4 L766.0 539.4 L768.5 539.4 L770.9 539.4 L773.4 539.3 L775.9 539.4 L778.4 539.3 L779.2 529.2 L779.7 503.7 L780.4 483.3 L781.0 473.1 L782.1 442.5 L782.6 427.2 L783.1 411.9 L783.7 407.8 L784.6 403.7 L785.2 402.7 L786.6 403.5 L788.6 404.8 L789.5 406.3 L789.9 411.9 L790.1 442.5 L791.2 473.1 L791.7 503.7 L792.5 529.2 L793.2 539.3 L795.7 539.4 L798.2 539.4 L800.7 539.4 L803.2 539.4 L805.7 539.4 L808.1 539.4 L810.6 539.3 L813.1 539.4 L815.6 539.4 L818.1 539.3 L820.6 539.3 L823.1 539.4 L825.5 539.4 L828.0 539.4 L830.5 539.4 L833.0 539.4 L835.5 539.3 L838.0 539.4 L840.5 539.2 L842.9 539.4 L845.4 539.4 L847.9 539.4 L850.4 539.2 L852.9 539.3 L855.4 539.4 L857.8 539.4 L860.3 539.4 L862.8 539.4 L865.3 539.4 L867.8 539.4 L870.3 539.4 L872.8 539.4 L875.2 539.4 L877.7 539.2 L880.2 539.4 L882.7 539.4 L885.2 539.2 L887.7 539.4 L890.2 539.2 L892.6 539.2 L895.1 539.4 L897.6 539.3 L900.1 539.3 L900.9 529.2 L901.4 503.7 L902.1 483.3 L902.7 473.1 L903.8 442.5 L904.3 427.2 L904.8 411.9 L905.4 407.8 L906.3 403.7 L906.9 402.7 L908.3 403.5 L910.3 404.8 L911.2 406.3 L911.6 411.9 L911.8 442.5 L912.9 473.1 L913.4 503.7 L914.2 529.2 L914.9 539.3 L917.4 539.2 L919.9 539.3 L922.4 539.4 L924.9 539.4 L927.4 539.2 L929.8 539.3 L932.3 539.4 L934.8 539.3 L937.3 539.4 L939.8 539.4 L942.3 539.4 L944.8 539.4 L947.2 539.4 L949.7 539.4 L952.2 539.3 L954.7 539.3 L957.2 539.2 L959.7 539.4 L962.2 539.2 L964.6 539.2 L967.1 539.4 L969.6 539.3 L972.1 539.4 L974.6 539.2 L977.1 539.4 L979.5 539.3 L982.0 539.4 L984.5 539.4 L987.0 539.4 L989.5 539.4 L992.0 539.4 L994.5 539.4 L996.9 539.4 L999.4 539.4 L1001.9 539.2 L1004.4 539.4 L1006.9 539.4 L1009.4 539.4 L1011.9 539.3 L1014.3 539.4 L1016.8 539.4 L1019.3 539.4 L1021.8 539.3 L1022.6 529.2 L1023.1 503.7 L1023.8 483.3 L1024.4 473.1 L1025.5 442.5 L1026.0 427.2 L1026.5 411.9 L1027.1 407.8 L1028.0 403.7 L1028.6 402.7 L1030.0 403.5 L1032.0 404.8 L1032.9 406.3 L1033.3 411.9 L1033.5 442.5 L1034.6 473.1 L1035.1 503.7 L1035.9 529.2 L1036.6 539.3 L1039.1 539.2 L1041.6 539.4 L1044.1 539.4 L1046.6 539.2 L1049.1 539.4 L1051.5 539.4 L1054.0 539.4 L1056.5 539.4 L1059.0 539.4 L1061.5 539.3 L1064.0 539.4 L1066.5 539.4 L1068.9 539.4 L1071.4 539.4 L1073.9 539.2 L1076.4 539.3 L1078.9 539.3 L1081.4 539.4 L1083.9 539.4 L1086.3 539.4 L1088.8 539.4 L1091.3 539.4 L1093.8 539.4 L1096.3 539.4 L1098.8 539.4 L1101.2 539.4 L1103.7 539.4 L1106.2 539.4 L1108.7 539.4 L1111.2 539.4 L1113.7 539.4 L1116.2 539.4 L1118.6 539.4 L1121.1 539.3 L1123.6 539.4 L1126.1 539.3 L1128.6 539.2 L1131.1 539.4 L1133.6 539.3 L1136.0 539.4 L1138.5 539.4 L1141.0 539.2 L1143.5 539.3 L1144.3 529.2 L1144.8 503.7 L1145.5 483.3 L1146.1 473.1 L1147.2 442.5 L1147.7 427.2 L1148.2 411.9 L1148.8 407.8 L1149.7 403.7 L1150.3 402.7 L1151.7 403.5 L1153.7 404.8 L1154.6 406.3 L1155.0 411.9 L1155.2 442.5 L1156.3 473.1 L1156.8 503.7 L1157.6 529.2 L1158.3 539.3 L1160.8 539.4 L1163.3 539.3 L1165.8 539.4 L1168.3 539.4 L1170.8 539.4 L1173.2 539.4 L1175.7 539.3 L1178.2 539.2 L1180.7 539.3 L1183.2 539.4 L1185.7 539.2 L1188.2 539.3 L1190.6 539.4 L1193.1 539.4 L1195.6 539.4 L1198.1 539.4 L1200.6 539.4 L1203.1 539.4 L1205.6 539.3 L1208.0 539.4 L1210.5 539.4 L1213.0 539.4 L1215.5 539.4 L1218.0 539.4 L1220.5 539.4 L1222.9 539.3 L1225.4 539.4 L1227.9 539.4 L1230.4 539.4 L1232.9 539.3 L1235.4 539.3 L1237.9 539.4 L1240.3 539.2 L1242.8 539.2 L1245.3 539.4 L1247.8 539.4 L1250.3 539.3 L1252.8 539.2 L1255.3 539.3 L1257.7 539.4 L1260.2 539.4 L1262.7 539.4 L1265.2 539.3 L1266.0 529.2 L1266.5 503.7 L1267.2 483.3 L1267.8 473.1 L1268.9 442.5 L1269.4 427.2 L1269.9 411.9 L1270.5 407.8 L1271.4 403.7 L1272.0 402.7 L1273.4 403.5 L1275.4 404.8 L1276.3 406.3 L1276.7 411.9 L1276.9 442.5 L1278.0 473.1 L1278.5 503.7 L1279.3 529.2 L1280.0 539.3 L1282.0 539.4" fill="none" stroke="#4A78AF" stroke-width="3" stroke-linejoin="round" stroke-linecap="butt"/>
<path d="M71.5 519.5 L74.0 519.2 L76.5 519.5 L79.0 519.5 L81.4 519.5 L83.9 519.5 L86.4 519.0 L88.9 519.0 L91.4 519.5 L93.9 519.2 L96.4 519.2 L98.9 519.5 L101.3 519.5 L103.8 519.5 L106.3 519.5 L108.8 519.5 L111.3 519.2 L113.8 519.5 L116.3 519.5 L118.8 519.5 L121.2 519.5 L123.7 519.5 L126.2 519.0 L128.7 519.5 L131.2 519.5 L133.7 519.5 L136.2 519.0 L138.7 519.5 L141.1 519.5 L143.6 519.5 L146.1 519.5 L148.6 519.5 L151.1 519.5 L153.6 519.5 L156.1 519.5 L158.6 519.5 L161.0 519.5 L163.5 519.5 L166.0 519.0 L168.5 519.0 L171.0 519.2 L173.5 519.5 L173.7 513.9 L174.2 503.7 L175.9 473.1 L177.1 442.5 L177.8 411.9 L178.5 401.7 L178.7 391.5 L179.6 381.3 L180.5 370.1 L181.7 368.2 L183.3 370.6 L184.5 372.3 L185.5 372.6 L186.1 377.2 L186.9 401.7 L187.1 442.5 L188.0 473.1 L188.2 503.7 L188.7 513.9 L189.4 519.5 L191.9 519.5 L194.3 519.5 L196.8 519.5 L199.3 519.5 L201.7 519.5 L204.2 519.5 L206.6 519.5 L209.1 519.5 L211.6 519.5 L214.0 519.5 L216.5 519.5 L218.9 519.5 L221.4 519.5 L223.9 519.5 L226.3 519.5 L228.8 519.2 L231.2 519.5 L233.7 519.5 L236.1 519.5 L238.6 519.5 L241.1 519.5 L243.5 519.2 L246.0 519.5 L248.4 519.5 L250.9 519.2 L253.4 519.0 L255.8 519.5 L258.3 519.5 L260.7 519.0 L263.2 519.5 L265.7 519.5 L268.1 519.2 L270.6 519.2 L273.0 519.5 L275.5 519.5 L278.0 519.0 L280.4 519.5 L282.9 519.0 L285.3 519.5 L287.8 519.5 L290.3 519.5 L292.7 519.5 L295.2 519.5 L295.4 513.9 L295.9 503.7 L297.6 473.1 L298.8 442.5 L299.5 411.9 L300.2 401.7 L300.4 391.5 L301.3 381.3 L302.2 370.1 L303.4 368.2 L305.0 370.6 L306.2 372.3 L307.2 372.6 L307.8 377.2 L308.6 401.7 L308.8 442.5 L309.7 473.1 L309.9 503.7 L310.4 513.9 L311.1 519.5 L313.6 519.5 L316.0 519.5 L318.5 519.5 L321.0 519.0 L323.4 519.5 L325.9 519.0 L328.3 519.2 L330.8 519.5 L333.3 519.5 L335.7 519.2 L338.2 519.0 L340.6 519.5 L343.1 519.5 L345.6 519.5 L348.0 519.5 L350.5 519.5 L352.9 519.5 L355.4 519.5 L357.8 519.5 L360.3 519.5 L362.8 519.5 L365.2 519.5 L367.7 519.5 L370.1 519.5 L372.6 519.5 L375.1 519.5 L377.5 519.2 L380.0 519.5 L382.4 519.5 L384.9 519.5 L387.4 519.5 L389.8 519.0 L392.3 519.5 L394.7 519.5 L397.2 519.0 L399.7 519.5 L402.1 519.5 L404.6 519.0 L407.0 519.5 L409.5 519.5 L412.0 519.5 L414.4 519.5 L416.9 519.5 L417.1 513.9 L417.6 503.7 L419.3 473.1 L420.5 442.5 L421.2 411.9 L421.9 401.7 L422.1 391.5 L423.0 381.3 L423.9 370.1 L425.1 368.2 L426.7 370.6 L427.9 372.3 L428.9 372.6 L429.5 377.2 L430.3 401.7 L430.5 442.5 L431.4 473.1 L431.6 503.7 L432.1 513.9 L432.8 519.5 L435.3 519.5 L437.7 519.5 L440.2 519.0 L442.7 519.0 L445.1 519.5 L447.6 519.5 L450.0 519.2 L452.5 519.5 L455.0 519.5 L457.4 519.5 L459.9 519.5 L462.3 519.5 L464.8 519.5 L467.3 519.5 L469.7 519.5 L472.2 519.5 L474.6 519.5 L477.1 519.0 L479.5 519.5 L482.0 519.5 L484.5 519.5 L486.9 519.2 L489.4 519.5 L491.8 519.2 L494.3 519.2 L496.8 519.5 L499.2 519.5 L501.7 519.0 L504.1 519.5 L506.6 519.5 L509.1 519.5 L511.5 519.5 L514.0 519.5 L516.4 519.2 L518.9 519.5 L521.4 519.5 L523.8 519.5 L526.3 519.5 L528.7 519.2 L531.2 519.0 L533.7 519.5 L536.1 519.2 L538.6 519.5 L538.8 513.9 L539.3 503.7 L541.0 473.1 L542.2 442.5 L542.9 411.9 L543.6 401.7 L543.8 391.5 L544.7 381.3 L545.6 370.1 L546.8 368.2 L548.4 370.6 L549.6 372.3 L550.6 372.6 L551.2 377.2 L552.0 401.7 L552.2 442.5 L553.1 473.1 L553.3 503.7 L553.8 513.9 L554.5 519.5 L557.0 519.5 L559.4 519.5 L561.9 519.2 L564.4 519.2 L566.8 519.5 L569.3 519.5 L571.7 519.5 L574.2 519.5 L576.7 519.0 L579.1 519.2 L581.6 519.5 L584.0 519.2 L586.5 519.5 L589.0 519.5 L591.4 519.5 L593.9 519.5 L596.3 519.5 L598.8 519.2 L601.2 519.0 L603.7 519.5 L606.2 519.5 L608.6 519.5 L611.1 519.5 L613.5 519.5 L616.0 519.5 L618.5 519.2 L620.9 519.5 L623.4 519.5 L625.8 519.5 L628.3 519.5 L630.8 519.2 L633.2 519.5 L635.7 519.2 L638.1 519.0 L640.6 519.5 L643.1 519.2 L645.5 519.5 L648.0 519.0 L650.4 519.5 L652.9 519.5 L655.4 519.5 L657.8 519.5 L660.3 519.5 L660.5 513.9 L661.0 503.7 L662.7 473.1 L663.9 442.5 L664.6 411.9 L665.3 401.7 L665.5 391.5 L666.4 381.3 L667.3 370.1 L668.5 368.2 L670.1 370.6 L671.3 372.3 L672.3 372.6 L672.9 377.2 L673.7 401.7 L673.9 442.5 L674.8 473.1 L675.0 503.7 L675.5 513.9 L676.2 519.5 L678.7 519.5 L681.1 519.5 L683.6 519.0 L686.1 519.5 L688.5 519.2 L691.0 519.2 L693.4 519.5 L695.9 519.5 L698.4 519.5 L700.8 519.5 L703.3 519.5 L705.7 519.5 L708.2 519.2 L710.7 519.5 L713.1 519.5 L715.6 519.5 L718.0 519.5 L720.5 519.2 L722.9 519.5 L725.4 519.5 L727.9 519.2 L730.3 519.5 L732.8 519.5 L735.2 519.5 L737.7 519.5 L740.2 519.0 L742.6 519.5 L745.1 519.5 L747.5 519.0 L750.0 519.2 L752.5 519.2 L754.9 519.5 L757.4 519.5 L759.8 519.5 L762.3 519.5 L764.8 519.0 L767.2 519.0 L769.7 519.0 L772.1 519.0 L774.6 519.0 L777.1 519.5 L779.5 519.5 L782.0 519.5 L782.2 513.9 L782.7 503.7 L784.4 473.1 L785.6 442.5 L786.3 411.9 L787.0 401.7 L787.2 391.5 L788.1 381.3 L789.0 370.1 L790.2 368.2 L791.8 370.6 L793.0 372.3 L794.0 372.6 L794.6 377.2 L795.4 401.7 L795.6 442.5 L796.5 473.1 L796.7 503.7 L797.2 513.9 L797.9 519.5 L800.4 519.0 L802.8 519.5 L805.3 519.5 L807.8 519.5 L810.2 519.5 L812.7 519.5 L815.1 519.5 L817.6 519.5 L820.1 519.2 L822.5 519.5 L825.0 519.0 L827.4 519.5 L829.9 519.5 L832.4 519.5 L834.8 519.0 L837.3 519.2 L839.7 519.5 L842.2 519.5 L844.6 519.5 L847.1 519.5 L849.6 519.5 L852.0 519.5 L854.5 519.5 L856.9 519.5 L859.4 519.5 L861.9 519.5 L864.3 519.5 L866.8 519.5 L869.2 519.5 L871.7 519.2 L874.2 519.5 L876.6 519.5 L879.1 519.0 L881.5 519.5 L884.0 519.5 L886.5 519.5 L888.9 519.5 L891.4 519.5 L893.8 519.5 L896.3 519.5 L898.8 519.2 L901.2 519.5 L903.7 519.5 L903.9 513.9 L904.4 503.7 L906.1 473.1 L907.3 442.5 L908.0 411.9 L908.7 401.7 L908.9 391.5 L909.8 381.3 L910.7 370.1 L911.9 368.2 L913.5 370.6 L914.7 372.3 L915.7 372.6 L916.3 377.2 L917.1 401.7 L917.3 442.5 L918.2 473.1 L918.4 503.7 L918.9 513.9 L919.6 519.5 L922.1 519.0 L924.5 519.5 L927.0 519.5 L929.5 519.5 L931.9 519.5 L934.4 519.5 L936.8 519.5 L939.3 519.5 L941.8 519.0 L944.2 519.5 L946.7 519.0 L949.1 519.0 L951.6 519.5 L954.1 519.0 L956.5 519.0 L959.0 519.0 L961.4 519.5 L963.9 519.2 L966.3 519.0 L968.8 519.5 L971.3 519.0 L973.7 519.5 L976.2 519.5 L978.6 519.5 L981.1 519.5 L983.6 519.5 L986.0 519.5 L988.5 519.0 L990.9 519.5 L993.4 519.5 L995.9 519.5 L998.3 519.0 L1000.8 519.5 L1003.2 519.5 L1005.7 519.0 L1008.2 519.5 L1010.6 519.5 L1013.1 519.5 L1015.5 519.2 L1018.0 519.2 L1020.5 519.2 L1022.9 519.5 L1025.4 519.5 L1025.6 513.9 L1026.1 503.7 L1027.8 473.1 L1029.0 442.5 L1029.7 411.9 L1030.4 401.7 L1030.6 391.5 L1031.5 381.3 L1032.4 370.1 L1033.6 368.2 L1035.2 370.6 L1036.4 372.3 L1037.4 372.6 L1038.0 377.2 L1038.8 401.7 L1039.0 442.5 L1039.9 473.1 L1040.1 503.7 L1040.6 513.9 L1041.3 519.5 L1043.8 519.5 L1046.2 519.5 L1048.7 519.5 L1051.2 519.5 L1053.6 519.5 L1056.1 519.5 L1058.5 519.0 L1061.0 519.5 L1063.5 519.5 L1065.9 519.5 L1068.4 519.5 L1070.8 519.2 L1073.3 519.5 L1075.8 519.5 L1078.2 519.5 L1080.7 519.5 L1083.1 519.5 L1085.6 519.5 L1088.0 519.5 L1090.5 519.0 L1093.0 519.0 L1095.4 519.5 L1097.9 519.5 L1100.3 519.5 L1102.8 519.5 L1105.3 519.5 L1107.7 519.2 L1110.2 519.2 L1112.6 519.2 L1115.1 519.5 L1117.6 519.5 L1120.0 519.2 L1122.5 519.5 L1124.9 519.5 L1127.4 519.2 L1129.9 519.5 L1132.3 519.5 L1134.8 519.5 L1137.2 519.5 L1139.7 519.2 L1142.2 519.2 L1144.6 519.0 L1147.1 519.5 L1147.3 513.9 L1147.8 503.7 L1149.5 473.1 L1150.7 442.5 L1151.4 411.9 L1152.1 401.7 L1152.3 391.5 L1153.2 381.3 L1154.1 370.1 L1155.3 368.2 L1156.9 370.6 L1158.1 372.3 L1159.1 372.6 L1159.7 377.2 L1160.5 401.7 L1160.7 442.5 L1161.6 473.1 L1161.8 503.7 L1162.3 513.9 L1163.0 519.5 L1165.5 519.5 L1167.9 519.5 L1170.4 519.2 L1172.9 519.5 L1175.3 519.5 L1177.8 519.5 L1180.2 519.0 L1182.7 519.5 L1185.2 519.5 L1187.6 519.5 L1190.1 519.5 L1192.5 519.5 L1195.0 519.5 L1197.5 519.5 L1199.9 519.5 L1202.4 519.5 L1204.8 519.5 L1207.3 519.5 L1209.7 519.5 L1212.2 519.5 L1214.7 519.5 L1217.1 519.2 L1219.6 519.2 L1222.0 519.5 L1224.5 519.5 L1227.0 519.5 L1229.4 519.5 L1231.9 519.2 L1234.3 519.2 L1236.8 519.2 L1239.3 519.2 L1241.7 519.5 L1244.2 519.5 L1246.6 519.5 L1249.1 519.2 L1251.6 519.5 L1254.0 519.5 L1256.5 519.5 L1258.9 519.5 L1261.4 519.0 L1263.9 519.0 L1266.3 519.5 L1268.8 519.5 L1269.0 513.9 L1269.5 503.7 L1271.2 473.1 L1272.4 442.5 L1273.1 411.9 L1273.8 401.7 L1274.0 391.5 L1274.9 381.3 L1275.8 370.1 L1277.0 368.2 L1278.6 370.6 L1279.8 372.3 L1280.8 372.6 L1281.4 377.2 L1282.2 401.7 L1282.4 442.5 L1283.3 473.1 L1283.5 503.7 L1284.0 513.9 L1284.7 519.5 L1287.5 519.5" fill="none" stroke="#B14E4C" stroke-width="3" stroke-linejoin="round" stroke-linecap="butt"/>
<text x="60.0" y="555.9" font-size="10.5" class="sn" letter-spacing="1.0" text-anchor="end">-10</text>
<text x="60.0" y="523.1" font-size="10.5" class="sn" letter-spacing="1.0" text-anchor="end">0</text>
<text x="60.0" y="490.2" font-size="10.5" class="sn" letter-spacing="1.0" text-anchor="end">10</text>
<text x="60.0" y="457.4" font-size="10.5" class="sn" letter-spacing="1.0" text-anchor="end">20</text>
<text x="60.0" y="424.6" font-size="10.5" class="sn" letter-spacing="1.0" text-anchor="end">30</text>
<text x="60.0" y="391.7" font-size="10.5" class="sn" letter-spacing="1.0" text-anchor="end">40</text>
<text x="60.0" y="358.9" font-size="10.5" class="sn" letter-spacing="1.0" text-anchor="end">50</text>
<text x="70.8" y="541.0" font-size="10.5" class="sn" letter-spacing="1.0" text-anchor="middle">0</text>
<text x="273.6" y="541.0" font-size="10.5" class="sn" letter-spacing="1.0" text-anchor="middle">10</text>
<text x="476.5" y="541.0" font-size="10.5" class="sn" letter-spacing="1.0" text-anchor="middle">20</text>
<text x="679.3" y="541.0" font-size="10.5" class="sn" letter-spacing="1.0" text-anchor="middle">30</text>
<text x="882.1" y="541.0" font-size="10.5" class="sn" letter-spacing="1.0" text-anchor="middle">40</text>
<text x="1085.0" y="541.0" font-size="10.5" class="sn" letter-spacing="1.0" text-anchor="middle">50</text>
<text x="1287.8" y="541.0" font-size="10.5" class="sn" letter-spacing="1.0" text-anchor="middle">60</text>
<text x="541.2" y="332.3" font-size="21.7" font-weight="bold" textLength="386.8" lengthAdjust="spacingAndGlyphs">Pressure (cm water) web example code</text>
<text x="658.3" y="567.0" font-size="11.2" font-weight="bold" class="st" textLength="41.1" lengthAdjust="spacingAndGlyphs">Time (s)</text>
<text transform="translate(35.2 509.8) rotate(-90)" x="0" y="0" font-size="11.2" font-weight="bold" class="st" textLength="111.5" lengthAdjust="spacingAndGlyphs">Pressure (cm/water)</text>
<line x1="1314.7" y1="451.6" x2="1339.9" y2="451.6" stroke="#4A78AF" stroke-width="3" stroke-linecap="round"/>
<line x1="1314.7" y1="475.4" x2="1339.9" y2="475.4" stroke="#B14E4C" stroke-width="3" stroke-linecap="round"/>
<text x="1343.8" y="456.0" font-size="10.2" class="sn" textLength="102.5" lengthAdjust="spacingAndGlyphs">Web example code</text>
<text x="1343.8" y="480.0" font-size="10.2" class="sn" textLength="105.5" lengthAdjust="spacingAndGlyphs">Daz calculated code</text>
</svg></body></html>
